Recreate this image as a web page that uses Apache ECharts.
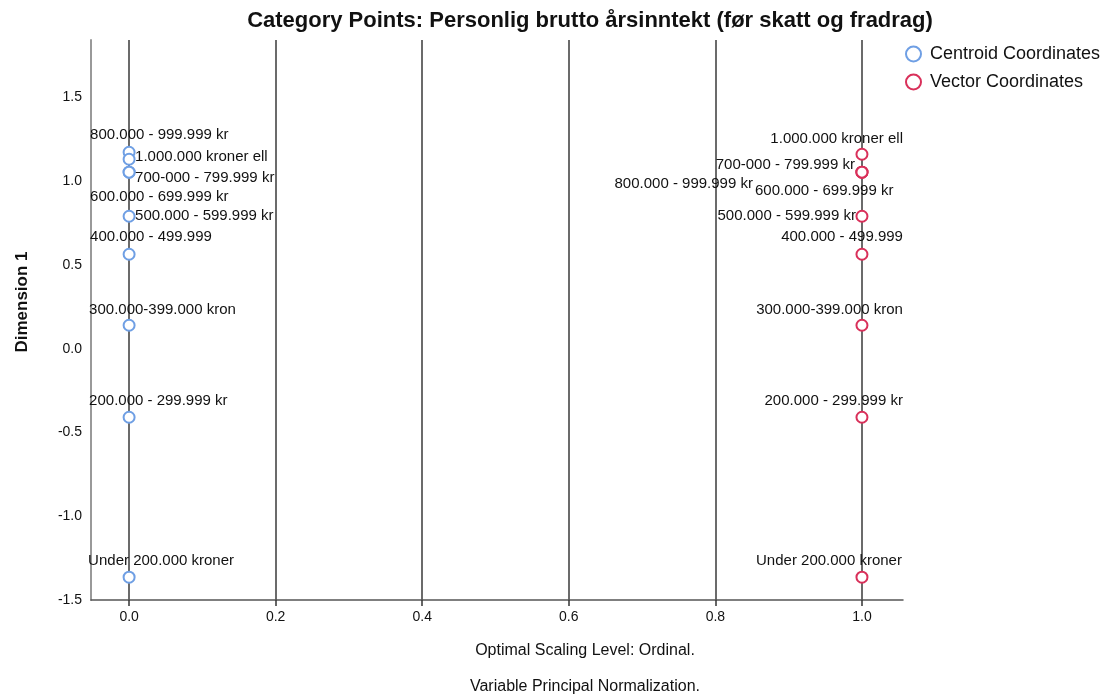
<!DOCTYPE html>
<html>
<head>
<meta charset="utf-8">
<script src="https://cdn.jsdelivr.net/npm/echarts@6/dist/echarts.min.js"></script>
<style>
  html, body { margin: 0; padding: 0; background: #fff; }
  #chart { width: 1113px; height: 698px; }
</style>
</head>
<body>
<div id="chart"></div>
<script>
// Income categories (Dimension 1 quantifications)
const categories = [
  'Under 200.000 kroner',
  '200.000 - 299.999 kr',
  '300.000-399.000 kron',
  '400.000 - 499.999',
  '500.000 - 599.999 kr',
  '600.000 - 699.999 kr',
  '700-000 - 799.999 kr',
  '800.000 - 999.999 kr',
  '1.000.000 kroner ell'
];
const centroidDim1 = [-1.364, -0.409, 0.140, 0.564, 0.791, 1.054, 1.054, 1.173, 1.131];
const vectorDim1   = [-1.364, -0.409, 0.140, 0.564, 0.791, 1.054, 1.054, 1.054, 1.161];
const centroidX = 0.0;
const vectorX = 1.0;
const xTicks = [0.0, 0.2, 0.4, 0.6, 0.8, 1.0];
const yTicks = [-1.5, -1.0, -0.5, 0.0, 0.5, 1.0, 1.5];

const FONT = 'Liberation Sans';
const BLUE = '#6f9fe4';
const RED = '#d9305a';
const TEXT = '#111111';

// Label placement per category: anchor side and pixel offset from the point
const centroidLabelPos = {
  'Under 200.000 kroner': ['left', -41, -16],
  '200.000 - 299.999 kr': ['left', -40, -16],
  '300.000-399.000 kron': ['left', -40, -15],
  '400.000 - 499.999':    ['left', -39, -17],
  '500.000 - 599.999 kr': ['left', 6, 0],
  '600.000 - 699.999 kr': ['left', -39, 25],
  '700-000 - 799.999 kr': ['left', 6, 6],
  '800.000 - 999.999 kr': ['left', -39, -17],
  '1.000.000 kroner ell': ['left', 6, -2]
};
const vectorLabelPos = {
  'Under 200.000 kroner': ['right', 40, -16],
  '200.000 - 299.999 kr': ['right', 41, -16],
  '300.000-399.000 kron': ['right', 41, -15],
  '400.000 - 499.999':    ['right', 41, -17],
  '500.000 - 599.999 kr': ['right', -6, 0],
  '600.000 - 699.999 kr': ['left', -107, 19],
  '700-000 - 799.999 kr': ['right', -7, -7],
  '800.000 - 999.999 kr': ['right', -109, 12],
  '1.000.000 kroner ell': ['right', 41, -15]
};

function buildPoints(xVal, values, placement) {
  return categories.map((name, i) => {
    const p = placement[name];
    return {
      name: name,
      value: [xVal, values[i]],
      label: {
        show: true,
        formatter: name,
        position: 'inside',
        align: p[0],
        verticalAlign: 'middle',
        offset: [p[1], p[2]],
        fontFamily: FONT,
        fontSize: 15,
        color: TEXT,
        textBorderWidth: 0,
        textBorderColor: 'transparent'
      }
    };
  });
}

const option = {
  animation: false,
  backgroundColor: '#ffffff',
  title: {
    text: 'Category Points: Personlig brutto årsinntekt (før skatt og fradrag)',
    left: 585,
    top: 5,
    textAlign: 'center',
    textStyle: { fontFamily: FONT, fontSize: 22, fontWeight: 'bold', color: '#111' }
  },
  legend: {
    left: 905,
    top: 45,
    padding: 0,
    orient: 'vertical',
    itemWidth: 15,
    itemHeight: 15,
    itemGap: 10,
    icon: 'emptyCircle',
    textStyle: { fontFamily: FONT, fontSize: 18, lineHeight: 15, color: TEXT, padding: [0, 0, 0, 4] },
    data: ['Centroid Coordinates', 'Vector Coordinates']
  },
  grid: { left: 91, right: 210, top: 40, bottom: 98, containLabel: false },
  xAxis: {
    type: 'value',
    min: -0.052,
    max: 1.056,
    axisLine: { show: true, onZero: false, lineStyle: { color: '#555', width: 1.5 } },
    axisTick: { show: true, length: 6, customValues: xTicks, lineStyle: { color: '#333', width: 1.5 } },
    axisLabel: {
      customValues: xTicks,
      margin: 10,
      formatter: v => v.toFixed(1),
      fontFamily: FONT, fontSize: 14, color: TEXT
    },
    splitLine: { show: true, lineStyle: { color: '#3a3a3a', width: 1.5 } }
  },
  yAxis: {
    type: 'value',
    min: -1.5,
    max: 1.843,
    axisLine: { show: true, onZero: false, lineStyle: { color: '#999', width: 2 } },
    axisTick: { show: false, customValues: yTicks },
    axisLabel: {
      customValues: yTicks,
      margin: 9,
      formatter: v => v.toFixed(1),
      fontFamily: FONT, fontSize: 14, color: TEXT
    },
    splitLine: { show: false }
  },
  series: [
    {
      name: 'Centroid Coordinates',
      type: 'scatter',
      symbol: 'emptyCircle',
      symbolSize: 11,
      itemStyle: { color: BLUE, borderColor: BLUE, borderWidth: 1.5, opacity: 1 },
      data: buildPoints(centroidX, centroidDim1, centroidLabelPos),
      z: 3
    },
    {
      name: 'Vector Coordinates',
      type: 'scatter',
      symbol: 'emptyCircle',
      symbolSize: 11,
      itemStyle: { color: RED, borderColor: RED, borderWidth: 1.5, opacity: 1 },
      data: buildPoints(vectorX, vectorDim1, vectorLabelPos),
      z: 3
    }
  ],
  graphic: [
    {
      type: 'text',
      x: 22, y: 302,
      rotation: Math.PI / 2,
      style: {
        text: 'Dimension 1',
        fontFamily: FONT, fontSize: 17, fontWeight: 'bold', fill: '#111',
        align: 'center', verticalAlign: 'middle'
      }
    },
    {
      type: 'text',
      x: 585, y: 651,
      style: {
        text: 'Optimal Scaling Level: Ordinal.',
        fontFamily: FONT, fontSize: 16, fill: TEXT,
        align: 'center', verticalAlign: 'middle'
      }
    },
    {
      type: 'text',
      x: 585, y: 687,
      style: {
        text: 'Variable Principal Normalization.',
        fontFamily: FONT, fontSize: 16, fill: TEXT,
        align: 'center', verticalAlign: 'middle'
      }
    }
  ]
};

const chart = echarts.init(document.getElementById('chart'), null, { renderer: 'canvas' });
chart.setOption(option);
</script>
</body>
</html>
